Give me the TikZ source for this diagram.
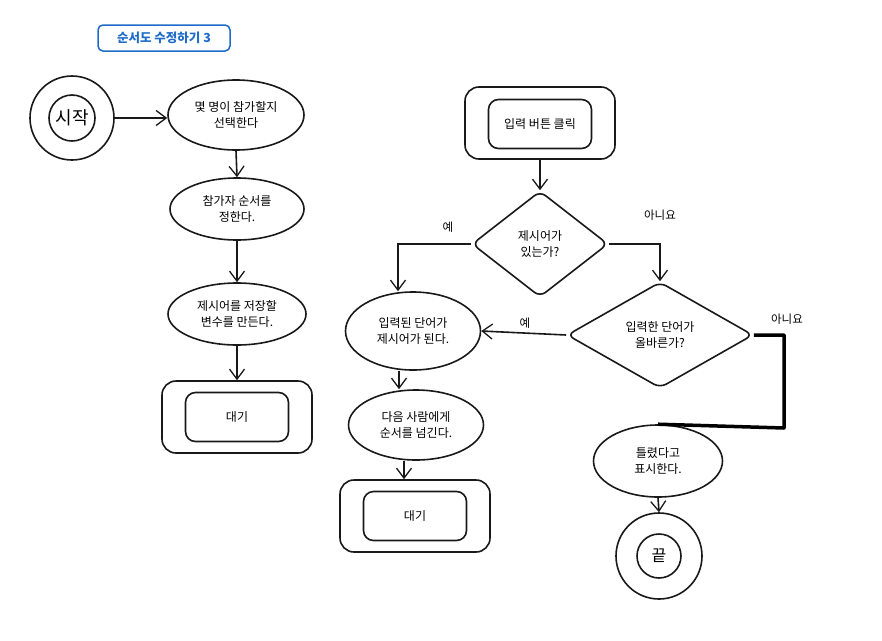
\documentclass[tikz,border=0pt]{standalone}
\usepackage{fontspec}
\setmainfont{Noto Sans CJK KR}
\usetikzlibrary{shapes.geometric,arrows.meta}
\definecolor{titleblue}{HTML}{1F6BC9}
\tikzset{
  ln/.style={line width=1.6pt, draw=black!90},
  arr/.style={ln, -{Straight Barb[length=10pt,width=15pt,line width=1.3pt]}},
  ell/.style={ellipse, ln, align=center, font=\fontsize{12}{15.5}\selectfont, inner sep=0pt},
  dia/.style={diamond, ln, rounded corners=7pt, align=center, inner sep=0pt, font=\fontsize{12}{15.5}\selectfont},
  outerbox/.style={rectangle, ln, rounded corners=14pt, minimum width=150pt, minimum height=72pt},
  innerbox/.style={rectangle, ln, rounded corners=10pt, minimum width=103pt, minimum height=49pt, font=\fontsize{12}{15}\selectfont},
  lbl/.style={font=\fontsize{11.5}{13}\selectfont},
}
\begin{document}
\begin{tikzpicture}[x=1pt,y=-1pt]
\useasboundingbox (0,0) rectangle (882,640);
% title
\node[draw=titleblue, line width=1.5pt, rounded corners=5pt, text=titleblue, minimum width=132pt, minimum height=26pt, font=\fontsize{12.5}{14}\selectfont\bfseries] (title) at (164,38) {순서도 수정하기 3};
% start
\node[circle, ln, minimum size=84pt] (startout) at (72,118) {};
\node[circle, ln, minimum size=46pt, font=\fontsize{18}{20}\selectfont] (start) at (72,118) {시작};
% left column
\node[ell, minimum width=136pt, minimum height=70pt] (e1) at (236,115) {몇 명이 참가할지\\선택한다};
\node[ell, minimum width=134pt, minimum height=62pt] (e2) at (237,209) {참가자 순서를\\정한다.};
\node[ell, minimum width=138pt, minimum height=62pt] (e3) at (237,314) {제시어를 저장할\\변수를 만든다.};
\node[outerbox] (w1out) at (237,417) {};
\node[innerbox] (w1) at (237,417) {대기};
% right top
\node[outerbox] (btnout) at (540,123) {};
\node[innerbox] (btn) at (540,124) {입력 버튼 클릭};
\node[dia, minimum width=136pt, minimum height=106pt] (d1) at (540,244) {제시어가\\있는가?};
\node[ell, minimum width=135pt, minimum height=78pt] (e4) at (413,331) {입력된 단어가\\제시어가 된다.};
\node[dia, minimum width=186pt, minimum height=106pt] (d2) at (660,335) {입력한 단어가\\올바른가?};
\node[ell, minimum width=135pt, minimum height=70pt] (e6) at (416,425) {다음 사람에게\\순서를 넘긴다.};
\node[outerbox] (w2out) at (415,516) {};
\node[innerbox] (w2) at (415,516) {대기};
\node[ell, minimum width=129pt, minimum height=72pt] (e5) at (658,461) {틀렸다고\\표시한다.};
\node[circle, ln, minimum size=86pt] (endout) at (659,556) {};
\node[circle, ln, minimum size=44pt, font=\fontsize{16}{18}\selectfont] (end) at (659,556) {끝};
% connectors
\draw[arr] (startout.east) -- (e1.west |- startout.east);
\draw[arr] (e1.south) -- (e2.north);
\draw[arr] (e2.south) -- (e3.north);
\draw[arr] (e3.south) -- (w1out.north);
\draw[arr] (btnout.south) -- (d1.north);
\draw[arr] (d1.west) -| ([xshift=-15pt]e4.north);
\draw[arr] (d1.east) -| (d2.north);
\draw[arr] (d2.west) -- (e4.east);
\coordinate (nobend) at (784,428);
\draw[line width=3.5pt, line join=round] (d2.east) -| (nobend) -- (e5.north);
\draw[arr] ([xshift=-14pt]e4.south) -- ([xshift=-14pt]e4.south |- e6.north);
\draw[arr] ([xshift=-12pt]e6.south) -- ([xshift=-12pt]e6.south |- w2out.north);
\draw[arr] (e5.south) -- (endout.north);
% labels
\node[lbl] (l1) at (448,227) {예};
\node[lbl] (l2) at (660,215) {아니요};
\node[lbl] (l3) at (525,323) {예};
\node[lbl] (l4) at (787,319) {아니요};
\end{tikzpicture}
\end{document}
